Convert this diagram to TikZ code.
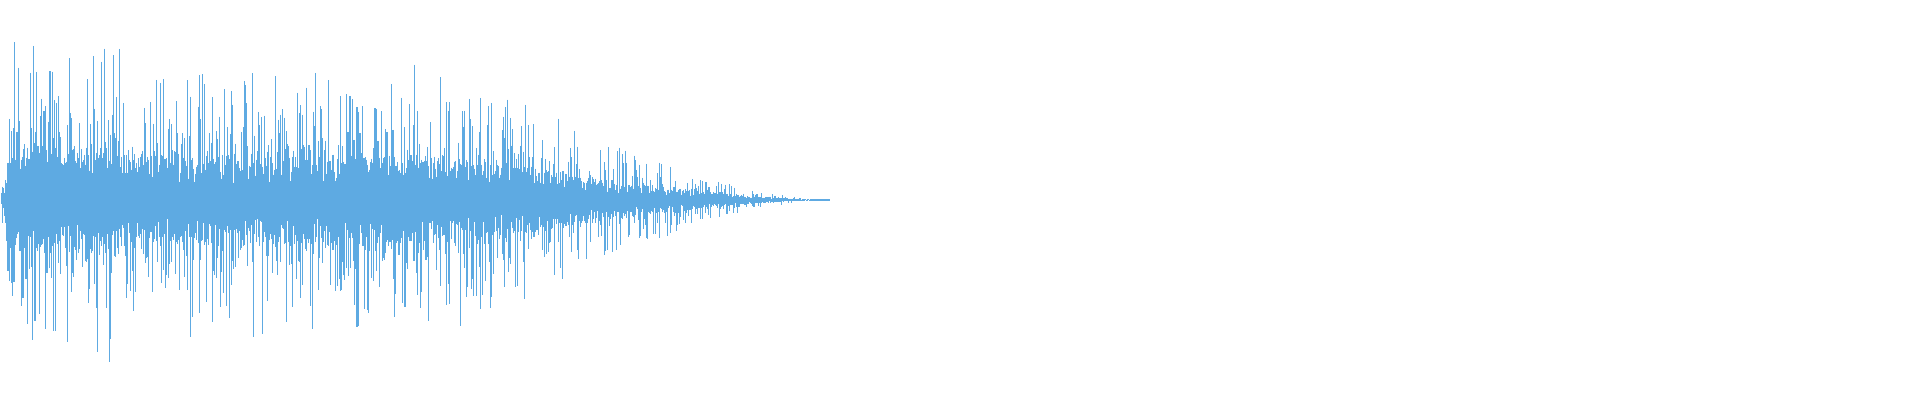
\documentclass[tikz,border=0pt]{standalone}
\definecolor{wave}{RGB}{94,170,226}
\tikzstyle{sample}=[draw, color=wave, line width=0.3pt]
\begin{document}
\begin{tikzpicture}
\useasboundingbox (0,0) rectangle (19.2,4);
\pgfmathsetseed{7}
% Envelope of the decaying waveform
\foreach \i in {0,...,1380} {
  \pgfmathsetmacro{\x}{0.02+\i*0.006}
  \pgfmathsetmacro{\env}{\x<0.15 ? 1.7*\x/0.15 : (\x<1.2 ? 1.7 : (\x<4.7 ? 1.4 : 1.4*((8.3-\x)/3.6)^1.6))}
  \pgfmathsetmacro{\up}{\env*(0.12+0.2*rnd+0.68*rnd^6)}
  \pgfmathsetmacro{\dn}{\env*(0.12+0.2*rnd+0.68*rnd^6)}
  \path[sample] (\x,2+\up) -- (\x,2-\dn);
}
\coordinate (tail) at (8.3,2);
\path[sample] (8.1,2) -- (tail);
\end{tikzpicture}
\end{document}
